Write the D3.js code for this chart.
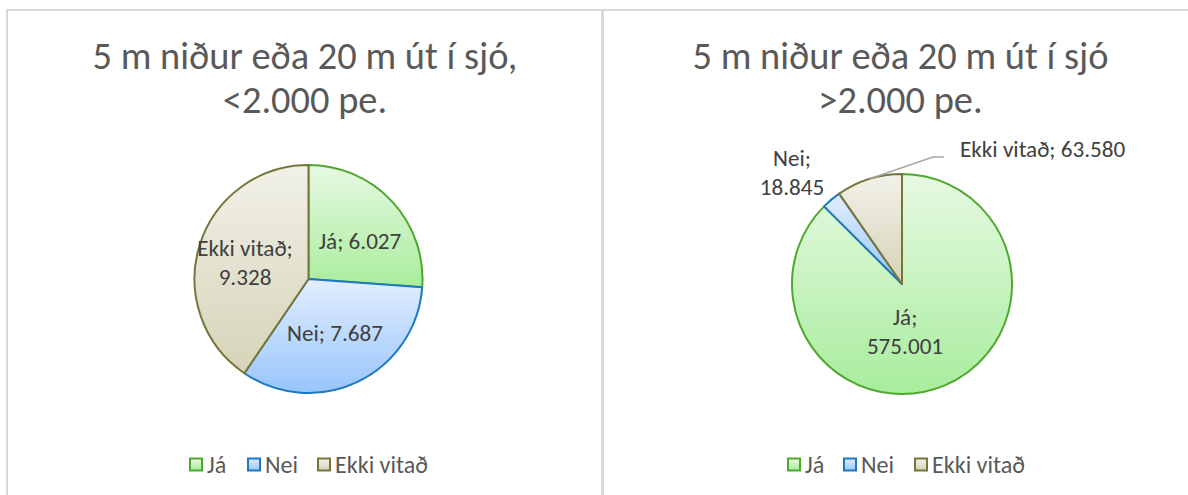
<!DOCTYPE html>
<html>
<head>
<meta charset="utf-8">
<script src="https://cdn.jsdelivr.net/npm/d3@7"></script>
<style>
  html, body { margin: 0; padding: 0; background: #fff; }
  svg { display: block; font-family: Calibri, Carlito, "Open Sans", sans-serif; }
</style>
</head>
<body>
<svg id="chart" width="1188" height="495"></svg>
<script>
// data
var categories = ["Já", "Nei", "Ekki vitað"];
var valuesSmall = [6027, 7687, 9328];
var valuesLarge = [575001, 18845, 63580];
var titlesSmall = ["5 m niður eða 20 m út í sjó,", "<2.000 pe."];
var titlesLarge = ["5 m niður eða 20 m út í sjó", ">2.000 pe."];

var fillTop = ["#e7f9e2", "#e2eefe", "#f2f1e8"];
var fillBottom = ["#a8ed9d", "#98c5fb", "#d5d3b7"];
var strokes = ["#4ea72e", "#1b78c2", "#76763a"];

var isLocale = d3.formatLocale({ decimal: ",", thousands: ".", grouping: [3], currency: ["", " kr."] });
var fmt = isLocale.format(",d");

var svg = d3.select("#chart");
var defs = svg.append("defs");

// size fonts so the text runs as wide as in the original (Calibri)
function fitSize(str, target) {
	var t = svg.append("text").attr("font-size", 100).text(str);
	var w = t.node().getComputedTextLength();
	t.remove();
	return 100 * target / w;
}
var titleSize = fitSize("5 m niður eða 20 m út í sjó,", 425);
var labelSize = fitSize("Nei; 7.687", 96);
var legendSize = fitSize("Ekki vitað", 93);

categories.forEach(function(c, i) {
	var g = defs.append("linearGradient").attr("id", "grad" + i)
		.attr("x1", 0).attr("y1", 0).attr("x2", 0).attr("y2", 1);
	g.append("stop").attr("offset", "0%").attr("stop-color", fillTop[i]);
	g.append("stop").attr("offset", "100%").attr("stop-color", fillBottom[i]);
});

// panel frames
svg.append("rect").attr("x", 7).attr("y", 10).attr("width", 595).attr("height", 520)
	.attr("fill", "none").attr("stroke", "#d9d9d9").attr("stroke-width", 2);
svg.append("rect").attr("x", 603).attr("y", 10).attr("width", 600).attr("height", 520)
	.attr("fill", "none").attr("stroke", "#d9d9d9").attr("stroke-width", 2);

var charts = [
	{ values: valuesSmall, titles: titlesSmall, cx: 308.5, cy: 279, r: 114, titleX: 305, legendX: 189, legendGap: [0, 58, 128],
	  labels: [
		{ lines: ["Já; %v"], dx: 51.5, dy: -38 },
		{ lines: ["Nei; %v"], dx: 26.5, dy: 54 },
		{ lines: ["Ekki vitað;", "%v"], dx: -63.5, dy: -16.5 }
	  ] },
	{ values: valuesLarge, titles: titlesLarge, cx: 902, cy: 284, r: 110, titleX: 900.5, legendX: 787, legendGap: [0, 56, 127],
	  labels: [
		{ lines: ["Já;", "%v"], dx: 3, dy: 47 },
		{ lines: ["Nei;", "%v"], dx: -110, dy: -111.5 },
		{ lines: ["Ekki vitað; %v"], leader: true, anchor: "start", x: 960, dy: -135 }
	  ] }
];

var pie = d3.pie().sort(null).value(function(d) { return d; });

charts.forEach(function(ch) {
	var g = svg.append("g");

	// title
	g.selectAll(".title").data(ch.titles).enter().append("text")
		.attr("x", ch.titleX).attr("y", function(d, i) { return 69 + i * 44; })
		.attr("text-anchor", "middle").attr("font-size", titleSize).attr("fill", "#595959")
		.text(function(d) { return d; });

	var arc = d3.arc().innerRadius(0).outerRadius(ch.r);
	var arcs = pie(ch.values);
	var pg = g.append("g").attr("transform", "translate(" + ch.cx + "," + ch.cy + ")");

	pg.selectAll("path").data(arcs).enter().append("path")
		.attr("d", arc)
		.attr("fill", function(d, i) { return "url(#grad" + i + ")"; })
		.attr("stroke", function(d, i) { return strokes[i]; })
		.attr("stroke-width", 2)
		.attr("stroke-linejoin", "round");

	// data labels
	arcs.forEach(function(a, i) {
		var lb = ch.labels[i];
		var txt = pg.append("text").attr("font-size", labelSize).attr("fill", "#404040")
			.attr("text-anchor", lb.anchor || "middle");
		var x = lb.x != null ? lb.x - ch.cx : lb.dx;
		var n = lb.lines.length;
		lb.lines.forEach(function(line, k) {
			txt.append("tspan").attr("x", x)
				.attr("y", lb.dy + (k - (n - 1) / 2) * 29)
				.attr("dy", "0.35em")
				.text(line.replace("%v", fmt(a.data)));
		});
		if (lb.leader) {
			var mid = (a.startAngle + a.endAngle) / 2;
			var p0 = [Math.sin(mid) * ch.r, -Math.cos(mid) * ch.r];
			var ly = lb.dy + 8;
			pg.append("polyline")
				.attr("points", [p0, [x - 27, ly], [x - 16, ly]].map(function(p) { return p.join(","); }).join(" "))
				.attr("fill", "none").attr("stroke", "#a6a6a6").attr("stroke-width", 1.5);
		}
	});

	// legend
	var lg = g.append("g").attr("transform", "translate(" + ch.legendX + ",464.5)");
	var items = lg.selectAll("g").data(categories).enter().append("g")
		.attr("transform", function(d, i) { return "translate(" + ch.legendGap[i] + ",0)"; });
	items.append("rect").attr("x", 1).attr("y", -6).attr("width", 12).attr("height", 12)
		.attr("fill", function(d, i) { return "url(#grad" + i + ")"; })
		.attr("stroke", function(d, i) { return strokes[i]; })
		.attr("stroke-width", 2);
	items.append("text").attr("x", 18).attr("y", 0).attr("dy", "0.35em")
		.attr("font-size", legendSize).attr("fill", "#595959")
		.text(function(d) { return d; });
});
</script>
</body>
</html>
